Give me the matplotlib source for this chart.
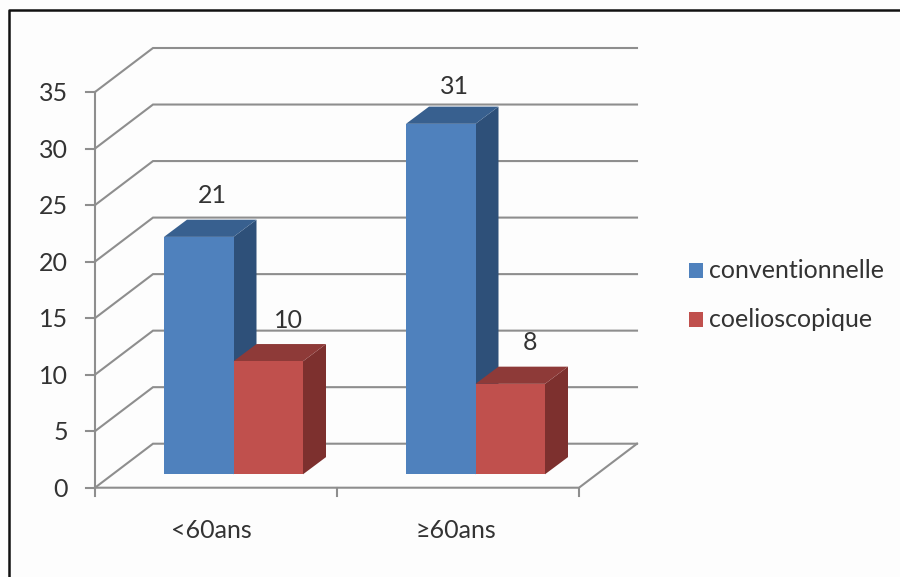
import matplotlib
matplotlib.use("Agg")
import matplotlib.pyplot as plt
from matplotlib.patches import Polygon, Rectangle

categories = ['<60ans', '≥60ans']
conventionnelle = [21, 31]
coelioscopique = [10, 8]
y_ticks = [0, 5, 10, 15, 20, 25, 30, 35]

series_names = ['conventionnelle', 'coelioscopique']
front_colors = ['#4f81bd', '#c0504d']
top_colors = ['#38608f', '#8e3a38']
side_colors = ['#2e5079', '#7d302e']
label_dx = [14, 20]
cat_dx = [-5, -2]

# layout of the fake 3d box, in pixels
AXIS_X = 95
AXIS_Y0 = 487.7
PX_PER_UNIT = 395.7 / 35
SLOT_W = 242
BAR_W = 69.5
WALL_DX, WALL_DY = 58, -44
GAP_DX, GAP_DY = 17.5, -13.4
BAR_DX, BAR_DY = 23, -17.2
GRID = '#8e8e8e'
TEXT = '#333333'
FS = 18

plt.rcParams['font.family'] = ['Lato', 'DejaVu Sans']


def val_y(v):
    return AXIS_Y0 - v * PX_PER_UNIT


def draw_bar(ax, left, value, i):
    right = left + BAR_W
    bottom = val_y(0) + GAP_DY
    top = val_y(value) + GAP_DY
    ax.add_patch(Polygon([(right, bottom), (right + BAR_DX, bottom + BAR_DY),
                          (right + BAR_DX, top + BAR_DY), (right, top)],
                         fc=side_colors[i], ec='none', zorder=3))
    ax.add_patch(Polygon([(left, top), (right, top),
                          (right + BAR_DX, top + BAR_DY), (left + BAR_DX, top + BAR_DY)],
                         fc=top_colors[i], ec='none', zorder=3))
    ax.add_patch(Rectangle((left, top), BAR_W, bottom - top,
                           fc=front_colors[i], ec='none', zorder=3))
    # the label of a tall bar gets pushed down a little near the top of the plot
    label_y = max(top - 41, 86)
    ax.text(left + BAR_W / 2 + label_dx[i], label_y, str(value), ha='center', va='center',
            fontsize=FS, color=TEXT, zorder=4)


fig = plt.figure(figsize=(9, 5.77), dpi=100, facecolor='#fdfdfd')
ax = fig.add_axes([0, 0, 1, 1])
ax.set_xlim(0, 900)
ax.set_ylim(577, 0)
ax.axis('off')

# outer frame, only left and top are visible
ax.plot([9, 9, 900], [577, 10, 10], color='#111111', lw=1.8, zorder=5)

floor_right = AXIS_X + SLOT_W * len(categories)

# gridlines wrap from the side wall onto the back wall
for t in y_ticks:
    y = val_y(t)
    ax.plot([AXIS_X, AXIS_X + WALL_DX, floor_right + WALL_DX],
            [y, y + WALL_DY, y + WALL_DY], color=GRID, lw=1.5, zorder=1,
            solid_joinstyle='miter')
    ax.plot([AXIS_X - 9, AXIS_X], [y, y], color=GRID, lw=1.5, zorder=1)
    ax.text(AXIS_X - 27, y + 1.5, str(t), ha='right', va='center', fontsize=FS,
            color=TEXT, zorder=4)
ax.plot([AXIS_X, AXIS_X], [val_y(35), val_y(0) + 8], color=GRID, lw=1.5, zorder=1)

# floor
ax.plot([AXIS_X, floor_right, floor_right + WALL_DX],
        [val_y(0), val_y(0), val_y(0) + WALL_DY], color=GRID, lw=1.5, zorder=1,
        solid_joinstyle='miter')
for k in range(1, len(categories) + 1):
    ax.plot([AXIS_X + SLOT_W * k] * 2, [val_y(0), val_y(0) + 8], color=GRID, lw=1.5, zorder=1)

for k, cat in enumerate(categories):
    start = AXIS_X + SLOT_W * k + (SLOT_W - 2 * BAR_W) / 2 + GAP_DX
    draw_bar(ax, start, conventionnelle[k], 0)
    draw_bar(ax, start + BAR_W, coelioscopique[k], 1)
    ax.text(AXIS_X + SLOT_W * k + SLOT_W / 2 + cat_dx[k], 530, cat, ha='center', va='center',
            fontsize=FS, color=TEXT, zorder=4)

# legend
for i, name in enumerate(series_names):
    y = 270.5 + i * 49
    ax.add_patch(Rectangle((689, y - 7.5), 14, 15, fc=front_colors[i], ec='none', zorder=3))
    ax.text(709, y, name, ha='left', va='center', fontsize=FS, color=TEXT, zorder=4)

fig.savefig('out.png', dpi=100, facecolor=fig.get_facecolor())
